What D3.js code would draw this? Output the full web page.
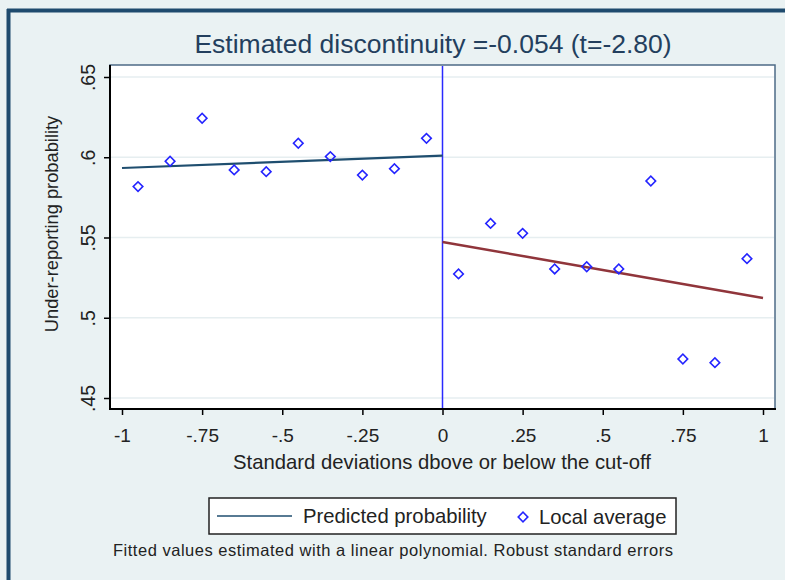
<!DOCTYPE html>
<html>
<head>
<meta charset="utf-8">
<script src="https://cdn.jsdelivr.net/npm/d3@7"></script>
<style>
body { margin: 0; background: #eaf2f3; }
svg { display: block; font-family: "Liberation Sans", Arial, sans-serif; }
</style>
</head>
<body>
<svg id="chart" width="785" height="580"></svg>
<script>
// bins and local averages
var leftX = [-0.95, -0.85, -0.75, -0.65, -0.55, -0.45, -0.35, -0.25, -0.15, -0.05];
var leftAvg = [0.5817, 0.5975, 0.6243, 0.5921, 0.5910, 0.6087, 0.6004, 0.5889, 0.5929, 0.6118];
var rightX = [0.05, 0.15, 0.25, 0.35, 0.45, 0.55, 0.65, 0.75, 0.85, 0.95];
var rightAvg = [0.5273, 0.5588, 0.5526, 0.5304, 0.5318, 0.5304, 0.5852, 0.4743, 0.4720, 0.5368];
// linear fits each side of the cut-off
var leftFit = [[-1, 0.5933], [0, 0.6010]];
var rightFit = [[0, 0.5472], [1, 0.5123]];
var xTicks = [-1, -0.75, -0.5, -0.25, 0, 0.25, 0.5, 0.75, 1];
var yTicks = [0.45, 0.5, 0.55, 0.6, 0.65];

var svg = d3.select('#chart');
var fmt = function(d){ return String(d).replace('0.', '.'); };

var x = d3.scaleLinear().domain([-1, 1]).range([122, 763]);
var y = d3.scaleLinear().domain([0.45, 0.65]).range([398, 77]);

// outer frame
svg.append('rect').attr('x', 0).attr('y', 0).attr('width', 785).attr('height', 580).attr('fill', '#eaf2f3');
svg.append('line').attr('x1', 7).attr('x2', 785).attr('y1', 10.5).attr('y2', 10.5)
    .attr('stroke', '#1f4b6e').attr('stroke-width', 4);
svg.append('line').attr('x1', 8.5).attr('x2', 8.5).attr('y1', 9).attr('y2', 580)
    .attr('stroke', '#1f4b6e').attr('stroke-width', 4);

// plot region
svg.append('rect').attr('x', 110).attr('y', 65).attr('width', 665).attr('height', 344)
    .attr('fill', '#fff').attr('stroke', '#4d6b87').attr('stroke-width', 1.5);

// grid
svg.append('g').selectAll('line').data(yTicks).enter().append('line')
    .attr('x1', 111).attr('x2', 774)
    .attr('y1', function(d){ return y(d); })
    .attr('y2', function(d){ return y(d); })
    .attr('stroke', '#e6eef0').attr('stroke-width', 1.5);

// axes
var yAxis = d3.axisLeft(y).tickValues(yTicks).tickSize(6).tickFormat(fmt);
var gy = svg.append('g').attr('transform', 'translate(110,0)').call(yAxis);
gy.select('.domain').remove();
gy.selectAll('.tick line').attr('stroke', '#000').attr('stroke-width', 1.5);
gy.selectAll('.tick text')
    .attr('x', 0).attr('dy', null)
    .attr('transform', 'translate(-15,0) rotate(-90)')
    .attr('text-anchor', 'middle')
    .attr('fill', '#222').style('font-size', '19.5px');

var xAxis = d3.axisBottom(x).tickValues(xTicks).tickSize(6).tickFormat(fmt);
var gx = svg.append('g').attr('transform', 'translate(0,409)').call(xAxis);
gx.select('.domain').remove();
gx.selectAll('.tick line').attr('stroke', '#000').attr('stroke-width', 1.5);
gx.selectAll('.tick text').attr('y', 33).attr('dy', null)
    .attr('fill', '#222').style('font-size', '19px');

svg.append('line').attr('x1', 110).attr('x2', 110).attr('y1', 65).attr('y2', 410)
    .attr('stroke', '#000').attr('stroke-width', 2);
svg.append('line').attr('x1', 109).attr('x2', 776).attr('y1', 409).attr('y2', 409)
    .attr('stroke', '#000').attr('stroke-width', 2);

// cut-off
svg.append('line').attr('x1', x(0)).attr('x2', x(0)).attr('y1', 66).attr('y2', 408)
    .attr('stroke', '#2a2aff').attr('stroke-width', 1.5);

// fitted lines
var line = d3.line().x(function(d){ return x(d[0]); }).y(function(d){ return y(d[1]); });
svg.append('path').datum(leftFit).attr('d', line).attr('fill', 'none')
    .attr('stroke', '#1f4e6f').attr('stroke-width', 2.2);
svg.append('path').datum(rightFit).attr('d', line).attr('fill', 'none')
    .attr('stroke', '#90353b').attr('stroke-width', 2.5);

// local averages
var diamond = d3.symbol().type(d3.symbolSquare).size(46);
var pts = leftX.map(function(d, i){ return [d, leftAvg[i]]; })
    .concat(rightX.map(function(d, i){ return [d, rightAvg[i]]; }));
svg.append('g').selectAll('path').data(pts).enter().append('path')
    .attr('d', diamond)
    .attr('transform', function(d){ return 'translate(' + x(d[0]) + ',' + y(d[1]) + ') rotate(45)'; })
    .attr('fill', 'none').attr('stroke', '#2424ff').attr('stroke-width', 1.6);

// titles
svg.append('text').attr('x', 433).attr('y', 53).attr('text-anchor', 'middle')
    .attr('fill', '#233f5e').style('font-size', '26.5px')
    .text('Estimated discontinuity =-0.054 (t=-2.80)');
svg.append('text').attr('transform', 'translate(58,224) rotate(-90)').attr('text-anchor', 'middle')
    .attr('fill', '#222').style('font-size', '18.3px')
    .text('Under-reporting probability');
svg.append('text').attr('x', 442).attr('y', 469).attr('text-anchor', 'middle')
    .attr('fill', '#222').style('font-size', '20.3px')
    .text('Standard deviations dbove or below the cut-off');

// legend
var lg = svg.append('g');
lg.append('rect').attr('x', 209).attr('y', 498).attr('width', 467).attr('height', 36)
    .attr('fill', '#fff').attr('stroke', '#222').attr('stroke-width', 1.5);
lg.append('line').attr('x1', 217).attr('x2', 292).attr('y1', 516).attr('y2', 516)
    .attr('stroke', '#1f4e6f').attr('stroke-width', 1.5);
lg.append('text').attr('x', 303).attr('y', 523).attr('fill', '#222').style('font-size', '20.3px')
    .text('Predicted probability');
lg.append('path').attr('d', diamond).attr('transform', 'translate(523,517) rotate(45)')
    .attr('fill', 'none').attr('stroke', '#2424ff').attr('stroke-width', 1.6);
lg.append('text').attr('x', 539).attr('y', 524).attr('fill', '#222').style('font-size', '20.3px')
    .text('Local average');

svg.append('text').attr('x', 113).attr('y', 556).attr('fill', '#222').style('font-size', '16.5px')
    .attr('textLength', 560).attr('lengthAdjust', 'spacing')
    .text('Fitted values estimated with a linear polynomial. Robust standard errors');
</script>
</body>
</html>
